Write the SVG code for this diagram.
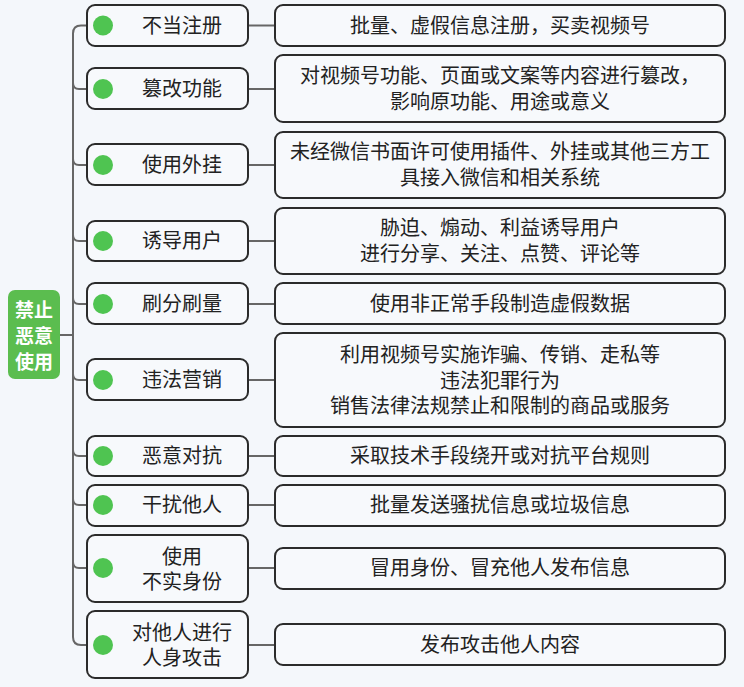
<svg xmlns="http://www.w3.org/2000/svg" width="744" height="687" viewBox="0 0 744 687">
<style>
.bg{fill:#f4f7fb}
.box{fill:#f7f9fc;stroke:#2b2b2b;stroke-width:2}
.dot{fill:#4fc451}
.t{font-family:"Noto Sans CJK SC","Noto Sans",sans-serif;font-size:20px;fill:#222;text-anchor:middle}
.rt{font-family:"Noto Sans CJK SC","Noto Sans",sans-serif;font-size:19px;font-weight:bold;fill:#fff;text-anchor:middle}
.ln{fill:none;stroke:#666;stroke-width:2}
</style>
<rect class="bg" x="0" y="0" width="744" height="687"/>
<g id="connectors">
<path class="ln" d="M60,335 H73"/>
<path class="ln" d="M87,25.5 H81 Q73,25.5 73,33.5 V637 Q73,645 81,645 H87"/>
<path class="ln" d="M73,83 Q73,89 79,89 H87"/>
<path class="ln" d="M73,159 Q73,165 79,165 H87"/>
<path class="ln" d="M73,235 Q73,241 79,241 H87"/>
<path class="ln" d="M73,298 Q73,304 79,304 H87"/>
<path class="ln" d="M73,374 Q73,380 79,380 H87"/>
<path class="ln" d="M73,450 Q73,456 79,456 H87"/>
<path class="ln" d="M73,499 Q73,505 79,505 H87"/>
<path class="ln" d="M73,562 Q73,568 79,568 H87"/>
<path class="ln" d="M248,25.5 H275"/>
<path class="ln" d="M248,89 H275"/>
<path class="ln" d="M248,165 H275"/>
<path class="ln" d="M248,241 H275"/>
<path class="ln" d="M248,304 H275"/>
<path class="ln" d="M248,380 H275"/>
<path class="ln" d="M248,456 H275"/>
<path class="ln" d="M248,505 H275"/>
<path class="ln" d="M248,568 H275"/>
<path class="ln" d="M248,645 H275"/>
</g>
<g id="root">
<rect x="8" y="290" width="52" height="89" rx="7" fill="#5bbd4f"/>
<text class="rt" x="34" y="317">禁止</text>
<text class="rt" x="34" y="343">恶意</text>
<text class="rt" x="34" y="369">使用</text>
</g>
<g id="n1"><rect class="box" x="87" y="5" width="161" height="41" rx="8"/><circle class="dot" cx="103" cy="25.5" r="10"/><text class="t" x="182" y="32.5">不当注册</text></g>
<g id="n2"><rect class="box" x="87" y="68" width="161" height="41" rx="8"/><circle class="dot" cx="103" cy="89" r="10"/><text class="t" x="182" y="96">篡改功能</text></g>
<g id="n3"><rect class="box" x="87" y="144" width="161" height="41" rx="8"/><circle class="dot" cx="103" cy="165" r="10"/><text class="t" x="182" y="172">使用外挂</text></g>
<g id="n4"><rect class="box" x="87" y="221" width="161" height="40" rx="8"/><circle class="dot" cx="103" cy="241" r="10"/><text class="t" x="182" y="248">诱导用户</text></g>
<g id="n5"><rect class="box" x="87" y="283" width="161" height="41" rx="8"/><circle class="dot" cx="103" cy="304" r="10"/><text class="t" x="182" y="311">刷分刷量</text></g>
<g id="n6"><rect class="box" x="87" y="359" width="161" height="41" rx="8"/><circle class="dot" cx="103" cy="380" r="10"/><text class="t" x="182" y="387">违法营销</text></g>
<g id="n7"><rect class="box" x="87" y="436" width="161" height="40" rx="8"/><circle class="dot" cx="103" cy="456" r="10"/><text class="t" x="182" y="463">恶意对抗</text></g>
<g id="n8"><rect class="box" x="87" y="485" width="161" height="41" rx="8"/><circle class="dot" cx="103" cy="505" r="10"/><text class="t" x="182" y="512">干扰他人</text></g>
<g id="n9"><rect class="box" x="87" y="535" width="161" height="67" rx="8"/><circle class="dot" cx="103" cy="568" r="10"/><text class="t" x="182" y="564">使用</text><text class="t" x="182" y="589">不实身份</text></g>
<g id="n10"><rect class="box" x="87" y="611" width="161" height="67" rx="8"/><circle class="dot" cx="103" cy="645" r="10"/><text class="t" x="182" y="640">对他人进行</text><text class="t" x="182" y="665">人身攻击</text></g>
<g id="d1"><rect class="box" x="275" y="5" width="450" height="41" rx="8"/><text class="t" x="500" y="32.5">批量、虚假信息注册，买卖视频号</text></g>
<g id="d2"><rect class="box" x="275" y="55" width="450" height="67" rx="8"/><text class="t" x="500" y="83">对视频号功能、页面或文案等内容进行篡改，</text><text class="t" x="500" y="109">影响原功能、用途或意义</text></g>
<g id="d3"><rect class="box" x="275" y="132" width="450" height="66" rx="8"/><text class="t" x="500" y="159">未经微信书面许可使用插件、外挂或其他三方工</text><text class="t" x="500" y="185">具接入微信和相关系统</text></g>
<g id="d4"><rect class="box" x="275" y="208" width="450" height="66" rx="8"/><text class="t" x="500" y="235">胁迫、煽动、利益诱导用户</text><text class="t" x="500" y="261">进行分享、关注、点赞、评论等</text></g>
<g id="d5"><rect class="box" x="275" y="283" width="450" height="41" rx="8"/><text class="t" x="500" y="311">使用非正常手段制造虚假数据</text></g>
<g id="d6"><rect class="box" x="275" y="333" width="450" height="94" rx="8"/><text class="t" x="500" y="362">利用视频号实施诈骗、传销、走私等</text><text class="t" x="500" y="387.5">违法犯罪行为</text><text class="t" x="500" y="413">销售法律法规禁止和限制的商品或服务</text></g>
<g id="d7"><rect class="box" x="275" y="436" width="450" height="40" rx="8"/><text class="t" x="500" y="463">采取技术手段绕开或对抗平台规则</text></g>
<g id="d8"><rect class="box" x="275" y="485" width="450" height="41" rx="8"/><text class="t" x="500" y="512">批量发送骚扰信息或垃圾信息</text></g>
<g id="d9"><rect class="box" x="275" y="548" width="450" height="41" rx="8"/><text class="t" x="500" y="575">冒用身份、冒充他人发布信息</text></g>
<g id="d10"><rect class="box" x="275" y="624" width="450" height="41" rx="8"/><text class="t" x="500" y="652">发布攻击他人内容</text></g>
</svg>
